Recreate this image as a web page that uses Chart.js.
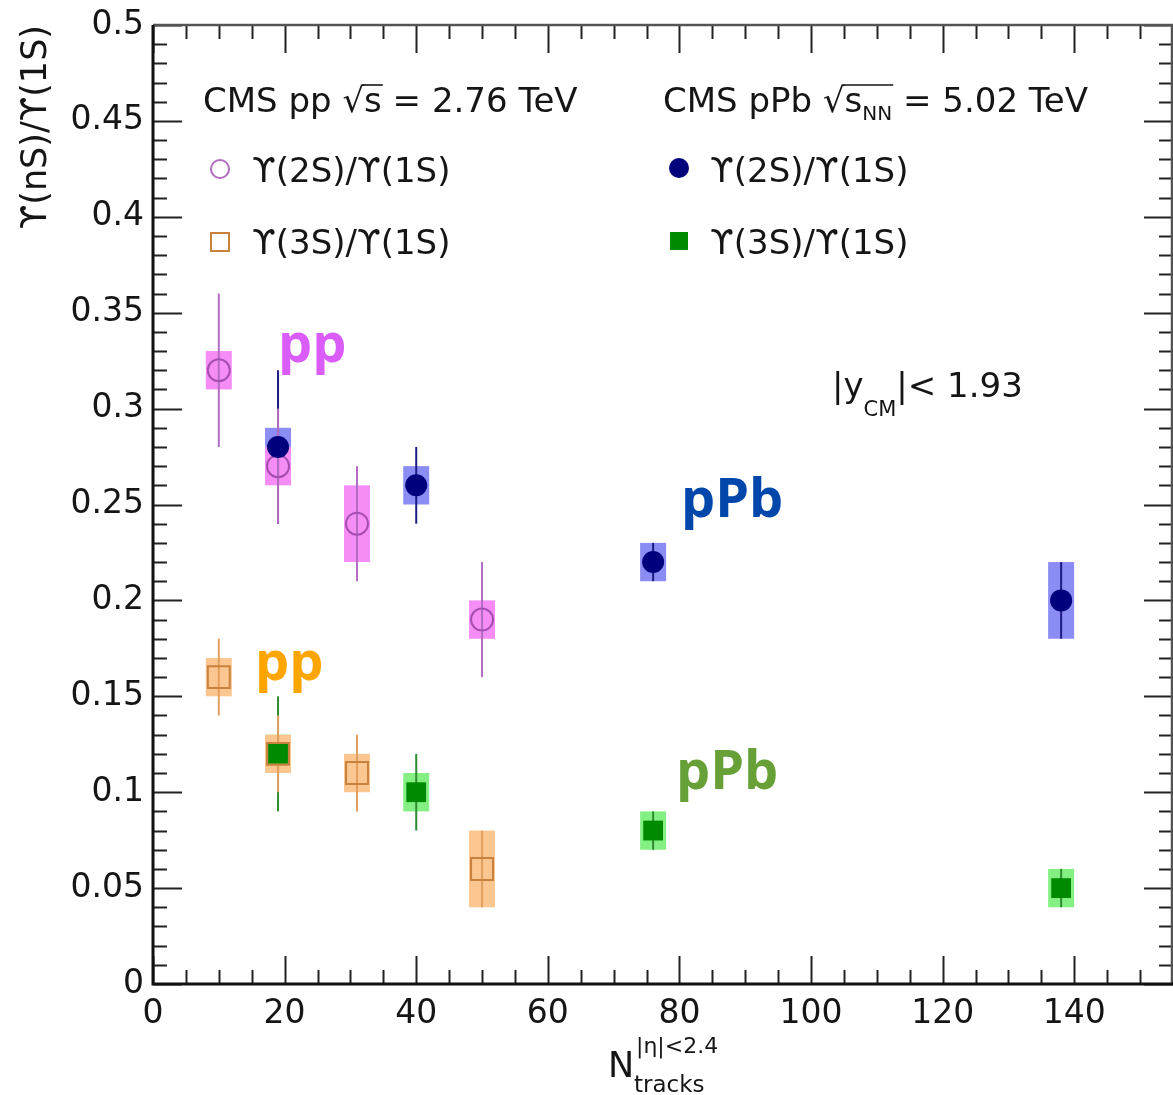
<!DOCTYPE html>
<html lang="en">
<head>
<meta charset="UTF-8">
<title>Upsilon(nS)/Upsilon(1S) vs Ntracks</title>
<script src="https://cdn.jsdelivr.net/npm/chart.js"></script>
<style>
  html, body { margin: 0; padding: 0; background: #fff; }
  canvas { display: block; }
</style>
</head>
<body>
<canvas id="ratioChart" width="1173" height="1095"></canvas>
<script>
  // axis ticks
  const xTicks = [0, 20, 40, 60, 80, 100, 120, 140];
  const yTicks = [0, 0.05, 0.1, 0.15, 0.2, 0.25, 0.3, 0.35, 0.4, 0.45, 0.5];
  const yTickLabels = ['0', '0.05', '0.1', '0.15', '0.2', '0.25', '0.3', '0.35', '0.4', '0.45', '0.5'];

  // pp, sqrt(s) = 2.76 TeV
  const ppX = [10, 19, 31, 50];
  const pp2S = [0.32, 0.27, 0.24, 0.19];
  const pp2SStat = [0.04, 0.03, 0.03, 0.03];
  const pp2SSyst = [0.01, 0.01, 0.02, 0.01];
  const pp3S = [0.16, 0.12, 0.11, 0.06];
  const pp3SStat = [0.02, 0.02, 0.02, 0.02];
  const pp3SSyst = [0.01, 0.01, 0.01, 0.02];

  // pPb, sqrt(sNN) = 5.02 TeV
  const pPbX = [19, 40, 76, 138];
  const pPb2S = [0.28, 0.26, 0.22, 0.20];
  const pPb2SStat = [0.04, 0.02, 0.01, 0.02];
  const pPb2SSyst = [0.01, 0.01, 0.01, 0.02];
  const pPb3S = [0.12, 0.10, 0.08, 0.05];
  const pPb3SStat = [0.03, 0.02, 0.01, 0.01];
  const pPb3SSyst = [0.01, 0.01, 0.01, 0.01];

  const FONT = '"DejaVu Sans", "Liberation Sans", sans-serif';
  const TAG_FONT = '"Open Sans", "Noto Sans", sans-serif';
  const INK = '#151515';

  const col = {
    pp2S: { mark: '#a64db3', line: '#b46cc2', box: '#f68df6' },
    pp3S: { mark: '#c9823e', line: '#e2a05e', box: '#fcc690' },
    pPb2S: { mark: '#00007c', line: '#1c1c80', box: '#8c8cf5' },
    pPb3S: { mark: '#008a00', line: '#2e8b2e', box: '#84f084' }
  };

  function toPoints(xs, ys) {
    return xs.map((x, i) => ({ x: x, y: ys[i] }));
  }

  // draw order: pPb boxes under pp boxes, then all stat bars
  const errorSets = [
    { x: pPbX, y: pPb3S, stat: pPb3SStat, syst: pPb3SSyst, c: col.pPb3S },
    { x: pPbX, y: pPb2S, stat: pPb2SStat, syst: pPb2SSyst, c: col.pPb2S },
    { x: ppX, y: pp3S, stat: pp3SStat, syst: pp3SSyst, c: col.pp3S },
    { x: ppX, y: pp2S, stat: pp2SStat, syst: pp2SSyst, c: col.pp2S }
  ];

  const errorBars = {
    id: 'errorBars',
    beforeDatasetsDraw(chart) {
      const { ctx, scales: { x, y } } = chart;
      const half = 13;
      ctx.save();
      errorSets.forEach(s => {
        ctx.fillStyle = s.c.box;
        s.x.forEach((xv, i) => {
          const px = x.getPixelForValue(xv);
          const top = y.getPixelForValue(s.y[i] + s.syst[i]);
          const bot = y.getPixelForValue(s.y[i] - s.syst[i]);
          ctx.fillRect(px - half, top, half * 2, bot - top);
        });
      });
      ctx.lineWidth = 2;
      errorSets.forEach(s => {
        ctx.strokeStyle = s.c.line;
        s.x.forEach((xv, i) => {
          const px = x.getPixelForValue(xv);
          ctx.beginPath();
          ctx.moveTo(px, y.getPixelForValue(s.y[i] + s.stat[i]));
          ctx.lineTo(px, y.getPixelForValue(s.y[i] - s.stat[i]));
          ctx.stroke();
        });
      });
      ctx.restore();
    }
  };

  // ROOT-style frame with inward ticks on all four sides
  const frameTicks = {
    id: 'frameTicks',
    afterDatasetsDraw(chart) {
      const { ctx, chartArea: a, scales: { x, y } } = chart;
      ctx.save();
      ctx.strokeStyle = '#222';
      ctx.lineWidth = 2;
      ctx.beginPath();
      for (let k = 0; k <= 31; k++) {
        const v = k * 5;
        if (v > x.max) break;
        const px = Math.round(x.getPixelForValue(v)) + 0.5;
        const len = v % 20 === 0 ? 28 : 14;
        ctx.moveTo(px, a.bottom); ctx.lineTo(px, a.bottom - len);
        ctx.moveTo(px, a.top); ctx.lineTo(px, a.top + len);
      }
      for (let k = 0; k <= 50; k++) {
        const py = Math.round(y.getPixelForValue(k / 100)) + 0.5;
        const len = k % 5 === 0 ? 29 : 14;
        ctx.moveTo(a.left, py); ctx.lineTo(a.left + len, py);
        ctx.moveTo(a.right, py); ctx.lineTo(a.right - len, py);
      }
      ctx.stroke();
      ctx.strokeStyle = '#555';
      ctx.lineWidth = 2.5;
      ctx.beginPath();
      ctx.moveTo(a.left, a.top); ctx.lineTo(a.right - 1, a.top); ctx.lineTo(a.right - 1, a.bottom);
      ctx.stroke();
      ctx.strokeStyle = '#111';
      ctx.lineWidth = 3;
      ctx.beginPath();
      ctx.moveTo(a.left, a.top); ctx.lineTo(a.left, a.bottom); ctx.lineTo(a.right, a.bottom);
      ctx.stroke();
      ctx.restore();
    }
  };

  // write a run of text pieces: [text, size, baselineShift]
  function runText(ctx, x, y, pieces) {
    let cx = x;
    const spans = [];
    pieces.forEach(p => {
      ctx.font = p[1] + 'px ' + FONT;
      ctx.fillText(p[0], cx, y + (p[2] || 0));
      const w = ctx.measureText(p[0]).width;
      spans.push([cx, cx + w]);
      cx += w;
    });
    return spans;
  }

  function rootHeader(ctx, x, y, lead, sub, tail) {
    const pieces = [[lead, 34], ['\u221A', 34], ['s', 34]];
    if (sub) pieces.push([sub, 20, 8]);
    pieces.push([tail, 34]);
    const spans = runText(ctx, x, y, pieces);
    ctx.font = '34px ' + FONT;
    const asc = ctx.measureText('\u221A').actualBoundingBoxAscent;
    ctx.beginPath();
    ctx.lineWidth = 1.6;
    ctx.moveTo(spans[1][1] - 2, y - asc + 1);
    ctx.lineTo(spans[sub ? 3 : 2][1] + 1, y - asc + 1);
    ctx.stroke();
  }

  const annotations = {
    id: 'annotations',
    afterDraw(chart) {
      const ctx = chart.ctx;
      ctx.save();
      ctx.fillStyle = INK;
      ctx.strokeStyle = INK;
      ctx.textBaseline = 'alphabetic';
      ctx.textAlign = 'left';

      // legend headers
      rootHeader(ctx, 203, 112, 'CMS pp ', null, ' = 2.76 TeV');
      rootHeader(ctx, 663, 112, 'CMS pPb ', 'NN', ' = 5.02 TeV');

      // legend entries
      ctx.font = '34px ' + FONT;
      ctx.fillStyle = INK;
      ctx.fillText('\u03D2(2S)/\u03D2(1S)', 252, 182);
      ctx.fillText('\u03D2(3S)/\u03D2(1S)', 252, 254);
      ctx.fillText('\u03D2(2S)/\u03D2(1S)', 710, 182);
      ctx.fillText('\u03D2(3S)/\u03D2(1S)', 710, 254);

      ctx.lineWidth = 2;
      ctx.strokeStyle = col.pp2S.line;
      ctx.beginPath(); ctx.arc(220, 169, 9, 0, Math.PI * 2); ctx.stroke();
      ctx.strokeStyle = col.pp3S.mark;
      ctx.strokeRect(211, 233, 18, 18);
      ctx.fillStyle = col.pPb2S.mark;
      ctx.beginPath(); ctx.arc(679, 168, 10, 0, Math.PI * 2); ctx.fill();
      ctx.fillStyle = col.pPb3S.mark;
      ctx.fillRect(670, 232, 18, 18);

      // rapidity range
      ctx.fillStyle = INK;
      runText(ctx, 832, 397, [['|y', 34], ['CM', 21, 19], ['|< 1.93', 34]]);

      // x-axis title
      runText(ctx, 608, 1077, [['N', 35]]);
      runText(ctx, 636, 1053, [['|\u03B7|<2.4', 22]]);
      runText(ctx, 634, 1092, [['tracks', 23]]);

      // coloured system tags
      ctx.font = 'bold 54px ' + TAG_FONT;
      ctx.fillStyle = '#d95cfb';
      ctx.fillText('pp', 278, 362);
      ctx.fillStyle = '#ffa500';
      ctx.fillText('pp', 255, 680);
      ctx.fillStyle = '#0047ab';
      ctx.fillText('pPb', 681, 517);
      ctx.fillStyle = '#66a037';
      ctx.fillText('pPb', 676, 789);
      ctx.restore();
    }
  };

  new Chart(document.getElementById('ratioChart'), {
    type: 'scatter',
    data: {
      datasets: [
        {
          label: 'pp \u03D2(2S)/\u03D2(1S)',
          data: toPoints(ppX, pp2S),
          pointStyle: 'circle',
          pointRadius: 11,
          borderWidth: 2,
          borderColor: col.pp2S.mark,
          backgroundColor: 'rgba(0,0,0,0)',
          order: 4
        },
        {
          label: 'pPb \u03D2(2S)/\u03D2(1S)',
          data: toPoints(pPbX, pPb2S),
          pointStyle: 'circle',
          pointRadius: 11,
          borderWidth: 0,
          backgroundColor: col.pPb2S.mark,
          borderColor: col.pPb2S.mark,
          order: 3
        },
        {
          label: 'pPb \u03D2(3S)/\u03D2(1S)',
          data: toPoints(pPbX, pPb3S),
          pointStyle: 'rect',
          pointRadius: 14,
          borderWidth: 0,
          backgroundColor: col.pPb3S.mark,
          borderColor: col.pPb3S.mark,
          order: 2
        },
        {
          label: 'pp \u03D2(3S)/\u03D2(1S)',
          data: toPoints(ppX, pp3S),
          pointStyle: 'rect',
          pointRadius: 15.5,
          borderWidth: 2,
          borderColor: col.pp3S.mark,
          backgroundColor: 'rgba(0,0,0,0)',
          order: 1
        }
      ]
    },
    options: {
      responsive: false,
      devicePixelRatio: 1,
      animation: false,
      events: [],
      layout: { autoPadding: false, padding: { top: 25, right: 0, bottom: 0, left: 0 } },
      plugins: {
        legend: { display: false },
        tooltip: { enabled: false }
      },
      scales: {
        x: {
          type: 'linear',
          min: 0,
          max: 155,
          grid: { display: false, drawTicks: false },
          border: { display: false },
          afterBuildTicks: s => { s.ticks = xTicks.map(v => ({ value: v })); },
          afterFit: s => { s.height = 111; s.paddingLeft = 0; s.paddingRight = 0; },
          ticks: {
            autoSkip: false,
            maxRotation: 0,
            padding: 11,
            color: INK,
            font: { family: FONT, size: 33 },
            callback: v => String(v)
          }
        },
        y: {
          type: 'linear',
          min: 0,
          max: 0.5,
          grid: { display: false, drawTicks: false },
          border: { display: false },
          afterBuildTicks: s => { s.ticks = yTicks.map(v => ({ value: v })); },
          afterFit: s => { s.width = 153; s.paddingTop = 0; s.paddingBottom = 0; },
          ticks: {
            autoSkip: false,
            padding: 9,
            color: INK,
            font: { family: FONT, size: 33 },
            callback: (v, i) => yTickLabels[i]
          },
          title: {
            display: true,
            text: '\u03D2(nS)/\u03D2(1S)',
            align: 'end',
            color: INK,
            font: { family: FONT, size: 35 },
            padding: { top: 16, bottom: 0 }
          }
        }
      }
    },
    plugins: [errorBars, frameTicks, annotations]
  });
</script>
</body>
</html>
